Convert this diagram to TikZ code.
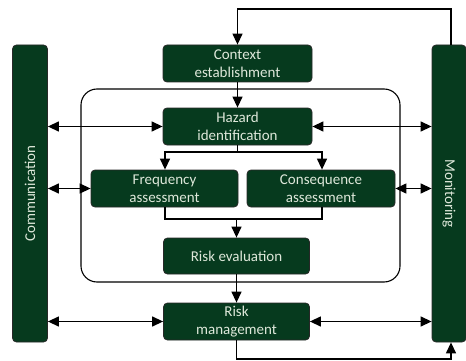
\documentclass[tikz,border=0pt]{standalone}
\usepackage{fontspec}
\setmainfont{Carlito}
\usetikzlibrary{arrows.meta}
\definecolor{boxgreen}{RGB}{6,58,30}
\definecolor{boxtext}{RGB}{222,232,218}
\definecolor{edgegray}{RGB}{40,40,40}
\tikzset{
  gbox/.style={draw=edgegray, line width=0.8pt, fill=boxgreen, rounded corners=4pt,
    text=boxtext, font=\fontsize{15}{18}\selectfont, align=center, inner sep=0pt},
  bar/.style={gbox, minimum width=35pt, minimum height=297pt},
  conn/.style={line width=1.3pt, draw=black},
  tip/.style={-{Triangle[length=11pt,width=10pt]}},
  dtip/.style={{Triangle[length=11pt,width=10pt]}-{Triangle[length=11pt,width=10pt]}},
}
\begin{document}
\begin{tikzpicture}[x=1pt,y=-1pt]
\useasboundingbox (0,0) rectangle (466,361);
% inner frame
\draw[line width=1.1pt, rounded corners=16pt] (81,89) rectangle (400,282);
% nodes
\node[bar] (comm) at (30,193.5) {};
\node[rotate=90, text=boxtext, font=\fontsize{15}{18}\selectfont] at (comm.center) {Communication};
\node[bar, minimum width=34pt] (mon) at (449,193.5) {};
\node[rotate=-90, text=boxtext, font=\fontsize{15}{18}\selectfont] at (mon.center) {Monitoring};
\node[gbox, minimum width=149pt, minimum height=37pt] (ctx) at (237.5,63.5) {Context\\establishment};
\node[gbox, minimum width=149pt, minimum height=37pt] (haz) at (237.5,126.5) {Hazard\\identification};
\node[gbox, minimum width=147pt, minimum height=37pt] (freq) at (164.5,188.5) {Frequency\\assessment};
\node[gbox, minimum width=148pt, minimum height=37pt] (cons) at (321,188.5) {Consequence\\assessment};
\node[gbox, minimum width=146pt, minimum height=36pt] (eval) at (236.5,256) {Risk evaluation};
\node[gbox, minimum width=146pt, minimum height=37pt] (mgmt) at (236.5,321.5) {Risk\\management};
% helper coordinates
\coordinate (topR) at (451,9);
\coordinate (topL) at (237.5,9);
\coordinate (splitL) at (165,152);
\coordinate (splitR) at (322,152);
\coordinate (mergeL) at (165,219);
\coordinate (mergeR) at (322,219);
\coordinate (mergeC) at (236.5,219);
\coordinate (botL) at (236.5,359);
\coordinate (botR) at (451,359);
% feedback top
\draw[conn, tip] (mon.north -| topR) -- (topR) -- (topL) -- (ctx.north);
\draw[conn, tip] (ctx.south) -- (haz.north);
% split
\draw[conn] (haz.south) -- (haz.south |- splitL);
\draw[conn, tip] (haz.south |- splitL) -- (splitL) -- (freq.north -| splitL);
\draw[conn, tip] (haz.south |- splitR) -- (splitR) -- (cons.north -| splitR);
% merge
\draw[conn] (freq.south -| mergeL) -- (mergeL) -- (mergeR) -- (cons.south -| mergeR);
\draw[conn, tip] (mergeC) -- (eval.north);
\draw[conn, tip] (eval.south) -- (mgmt.north);
% bottom feedback
\draw[conn, tip] (mgmt.south) -- (botL) -- (botR) -- (mon.south -| botR);
% double arrows
\draw[conn, dtip] (comm.east |- haz.west) -- (haz.west);
\draw[conn, dtip] (haz.east) -- (mon.west |- haz.east);
\draw[conn, dtip] (comm.east |- freq.west) -- (freq.west);
\draw[conn, dtip] (cons.east) -- (mon.west |- cons.east);
\draw[conn, dtip] (comm.east |- mgmt.west) -- (mgmt.west);
\draw[conn, dtip] (mgmt.east) -- (mon.west |- mgmt.east);
\end{tikzpicture}
\end{document}
